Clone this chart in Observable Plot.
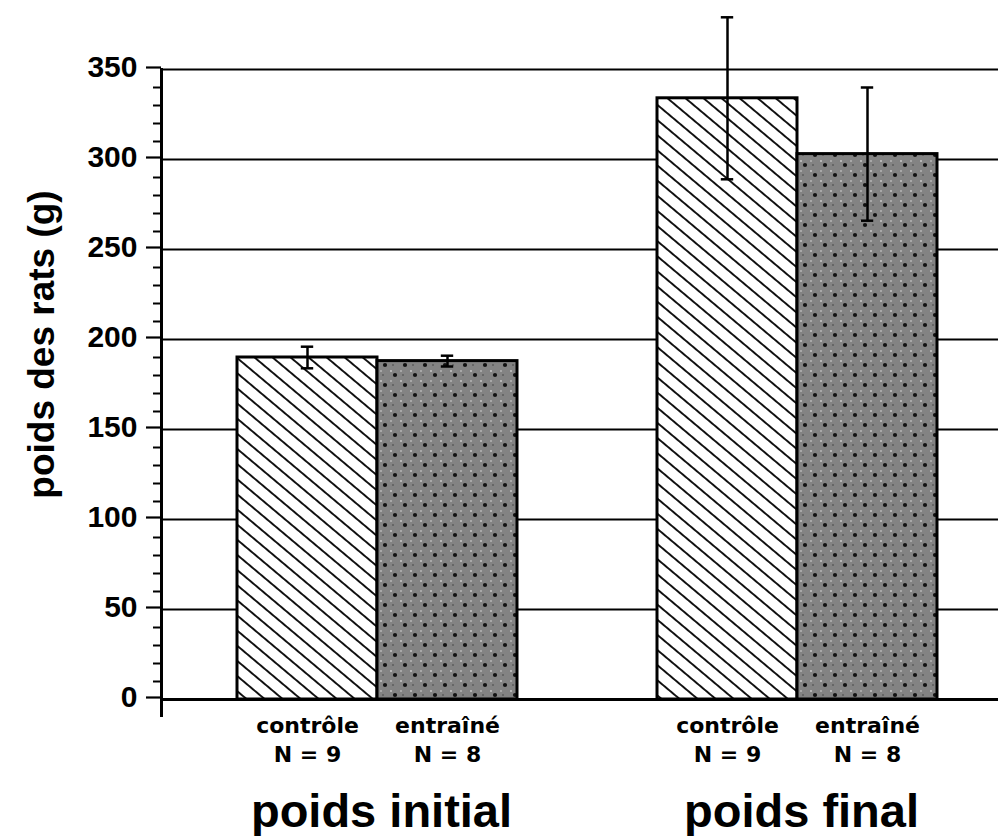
<!DOCTYPE html>
<html>
<head>
<meta charset="utf-8">
<script src="https://cdn.jsdelivr.net/npm/d3@7"></script>
<script src="https://cdn.jsdelivr.net/npm/@observablehq/plot@0.6"></script>
<style>
  html, body { margin: 0; padding: 0; background: #fff; }
  #chart svg { display: block; }
</style>
</head>
<body>
<div id="chart"></div>
<script>
// ---- data ----
const periods = ["poids initial", "poids final"];
const groups = ["contrôle", "entraîné"];
const groupN = [9, 8];
const controleMean = [190, 334];
const controleErr = [6, 45];
const entraineMean = [188, 303];
const entraineErr = [3, 37];
const majorTicks = [0, 50, 100, 150, 200, 250, 300, 350];
const gridValues = [50, 100, 150, 200, 250, 300, 350];

// ---- table built from arrays ----
const key = (p, g) => `${p}|${g}`;
const spacer = " ";
const rows = [];
periods.forEach((p, i) => {
  rows.push({period: p, group: groups[0], n: groupN[0], mean: controleMean[i], err: controleErr[i], key: key(p, groups[0])});
  rows.push({period: p, group: groups[1], n: groupN[1], mean: entraineMean[i], err: entraineErr[i], key: key(p, groups[1])});
});
const xDomain = [key(periods[0], groups[0]), key(periods[0], groups[1]), spacer, key(periods[1], groups[0]), key(periods[1], groups[1])];
const minorTicks = d3.range(0, 351, 10).filter(v => !majorTicks.includes(v));
const ctrl = rows.filter(d => d.group === groups[0]);
const entr = rows.filter(d => d.group === groups[1]);
const groupLabelRows = rows.filter(d => d.group === groups[1]);

const font = "'Liberation Sans', Arial, Helvetica, sans-serif";

const plot = Plot.plot({
  width: 998,
  height: 836,
  marginLeft: 161,
  marginRight: 0,
  marginTop: 69,
  marginBottom: 121,
  style: {fontFamily: font, background: "#fff", color: "#000", overflow: "visible"},
  x: {type: "band", domain: xDomain, range: [235, 938], padding: 0, axis: null},
  y: {domain: [0, 350], range: [699, 69], axis: null},
  marks: [
    Plot.ruleY(gridValues, {stroke: "#000", strokeWidth: 2.2}),
    Plot.axisY({ticks: majorTicks, tickSize: 15, tickPadding: 9, tickFormat: d => String(d), fontSize: 30, fontWeight: "bold", label: null, strokeWidth: 2.2, dy: -2}),
    Plot.axisY({ticks: minorTicks, tickSize: 8, tickFormat: () => "", label: null, strokeWidth: 2}),
    Plot.ruleY([0], {stroke: "#000", strokeWidth: 3}),
    Plot.frame({anchor: "left", stroke: "#000", strokeWidth: 3}),
    Plot.barY(ctrl, {x: "key", y: "mean", fill: "url(#hatchPat)", stroke: "#000", strokeWidth: 3}),
    Plot.barY(entr, {x: "key", y: "mean", fill: "url(#dotPat)", stroke: "#000", strokeWidth: 3}),
    Plot.ruleX(rows, {x: "key", y1: d => d.mean - d.err, y2: d => d.mean + d.err, stroke: "#000", strokeWidth: 2.5}),
    Plot.tickY(rows, {x: "key", y: d => d.mean + d.err, stroke: "#000", strokeWidth: 2.5, insetLeft: 63.8, insetRight: 63.8}),
    Plot.tickY(rows, {x: "key", y: d => d.mean - d.err, stroke: "#000", strokeWidth: 2.5, insetLeft: 63.8, insetRight: 63.8}),
    Plot.text(rows, {x: "key", y: 0, text: d => `${d.group}\nN = ${d.n}`, lineAnchor: "bottom", lineHeight: 1.3, dy: 62, fontSize: 22, fontWeight: "bold", fontFamily: "'DejaVu Sans', sans-serif", fill: "#000"}),
    Plot.text(groupLabelRows, {x: "key", text: "period", frameAnchor: "bottom", lineAnchor: "bottom", dy: 111, dx: -66, fontSize: 47, fontWeight: "bold", fill: "#000"}),
    Plot.text(["poids des rats (g)"], {frameAnchor: "left", textAnchor: "middle", rotate: -90, dx: -119, dy: -48, fontSize: 37, fontWeight: "bold", fill: "#000"})
  ]
});

// pattern definitions for bar fills
const ns = "http://www.w3.org/2000/svg";
const defs = document.createElementNS(ns, "defs");
defs.innerHTML = `
  <pattern id="hatchPat" patternUnits="userSpaceOnUse" width="20" height="11.6" patternTransform="rotate(40)">
    <rect x="-1" y="-1" width="22" height="14" fill="#fff"/>
    <line x1="-1" y1="5.8" x2="21" y2="5.8" stroke="#111" stroke-width="1.9"/>
  </pattern>
  <pattern id="dotPat" patternUnits="userSpaceOnUse" width="20" height="20">
    <rect width="20" height="20" fill="#838383"/>
    <rect x="0" y="0" width="2" height="2" fill="#b4b4b4"/>
    <rect x="10" y="10" width="2" height="2" fill="#b4b4b4"/>
    <rect x="10" y="0" width="2" height="2" fill="#a8a8a8"/>
    <rect x="0" y="10" width="2" height="2" fill="#a8a8a8"/>
    <rect x="2" y="14" width="2" height="2" fill="#666"/>
    <rect x="12" y="4" width="2" height="2" fill="#666"/>
    <circle cx="5" cy="5" r="2.1" fill="#111"/>
    <circle cx="15" cy="15" r="2.1" fill="#111"/>
  </pattern>`;
plot.insertBefore(defs, plot.firstChild);

document.getElementById("chart").appendChild(plot);
</script>
</body>
</html>
